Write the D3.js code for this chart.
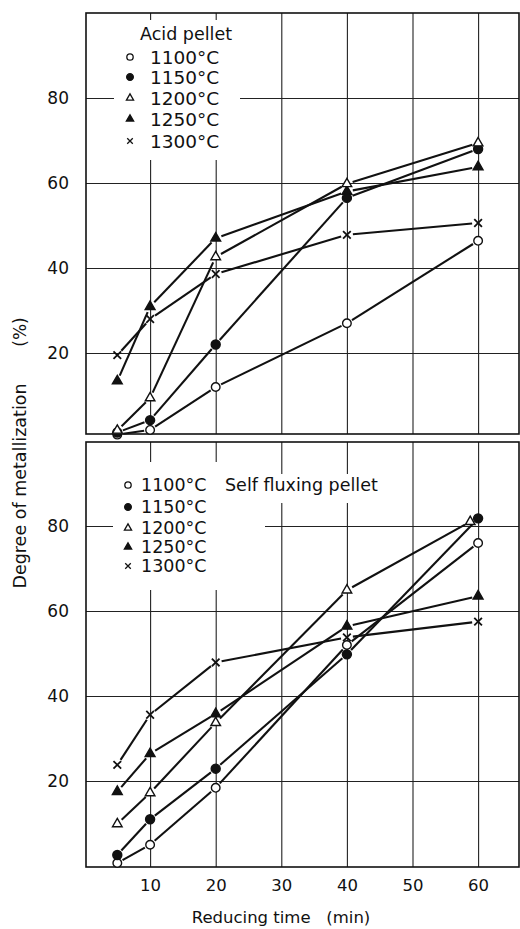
<!DOCTYPE html>
<html>
<head>
<meta charset="utf-8">
<script src="https://cdn.jsdelivr.net/npm/d3@7"></script>
<style>
body{margin:0;background:#fff;}
svg text{font-family:"DejaVu Sans",sans-serif;fill:#111;}
</style>
</head>
<body>
<svg id="chart" width="520" height="929"></svg>
<script>
// reducing time (min) for each measured point
const times = [5, 10, 20, 40, 60];
const labels = ["1100°C", "1150°C", "1200°C", "1250°C", "1300°C"];
const xTicks = [10, 20, 30, 40, 50, 60];
const yTicks = [20, 40, 60, 80];

// Acid pellet, degree of metallization (%)
const acid1100 = [0.8, 1.9, 12, 27, 46.4];
const acid1150 = [1.3, 4.2, 22, 56.5, 68];
const acid1200 = [1.8, 9.4, 42.6, 59.8, 69.4];
const acid1250 = [13.4, 30.9, 47, 58, 63.8];
const acid1300 = [19.5, 28, 38.6, 47.8, 50.6];

// Self fluxing pellet
const self1100 = [0.7, 5, 18.4, 52, 76];
const self1150 = [2.6, 11, 22.9, 49.8, 81.8];
const self1200 = [9.9, 17.2, 33.7, 64.9, 81];
const self1250 = [17.5, 26.4, 35.8, 56.4, 63.5];
const self1300 = [23.8, 35.6, 47.9, 53.8, 57.5];
const selfTimes1200 = [5, 10, 20, 40, 58.8];

const svg = d3.select("#chart");
const left = 86, right = 519;

const x = d3.scaleLinear().domain([0, 70]).range([84.5, 543.7]);

// marker look per temperature
const shapes = [d3.symbolCircle, d3.symbolCircle, d3.symbolTriangle, d3.symbolTriangle, d3.symbolTimes];
const filled = [false, true, false, true, false];
const sizes = [58, 64, 40, 42, 40];

function marker(i, scale){
    return d3.symbol().type(shapes[i]).size(sizes[i]*(scale||1))();
}

function drawPanel(cfg){
    const y = d3.scaleLinear().domain([0, 100]).range([cfg.y0, cfg.y100]);
    const g = svg.append("g");

    // grid via axes
    g.append("g")
        .attr("transform", `translate(${left},0)`)
        .call(d3.axisLeft(y).tickValues(yTicks).tickSize(-(right-left)).tickPadding(17))
        .call(a => a.select(".domain").remove())
        .call(a => a.selectAll("line").attr("stroke","#222").attr("stroke-width",1.1))
        .call(a => a.selectAll("text").attr("font-size",17).attr("font-family","DejaVu Sans").attr("fill","#111"));

    g.append("g")
        .attr("transform", `translate(0,${cfg.bottom})`)
        .call(d3.axisBottom(x).tickValues(xTicks).tickSize(-(cfg.bottom-cfg.top)).tickFormat(cfg.xLabels ? d3.format("d") : ""))
        .call(a => a.select(".domain").remove())
        .call(a => a.selectAll("line").attr("stroke","#222").attr("stroke-width",1.1))
        .call(a => a.selectAll("text").attr("font-size",16.5).attr("font-family","DejaVu Sans").attr("fill","#111").attr("dy","1.3em"));

    // legend background cuts the grid
    g.selectAll(".lgbg").data(cfg.blank).enter().append("rect")
        .attr("x", d => d[0]).attr("y", d => d[1])
        .attr("width", d => d[2]-d[0]).attr("height", d => d[3]-d[1])
        .attr("fill","#fff");

    // frame
    g.append("rect")
        .attr("x", left).attr("y", cfg.top)
        .attr("width", right-left).attr("height", cfg.bottom-cfg.top)
        .attr("fill","none").attr("stroke","#111").attr("stroke-width",1.6);

    // series lines, broken a little near each marker
    const gap = 6;
    cfg.series.forEach((vals, i) => {
        const ts = cfg.times[i];
        const pts = vals.map((v, k) => [x(ts[k]), y(v)]);
        for(let k = 0; k < pts.length-1; k++){
            const [x0, y0] = pts[k], [x1, y1] = pts[k+1];
            const len = Math.hypot(x1-x0, y1-y0);
            const ux = (x1-x0)/len, uy = (y1-y0)/len;
            g.append("line")
                .attr("x1", x0+ux*gap).attr("y1", y0+uy*gap)
                .attr("x2", x1-ux*gap).attr("y2", y1-uy*gap)
                .attr("stroke","#111").attr("stroke-width",2.1);
        }
    });

    // markers; filled triangles first so the open ones sit on top
    [3, 0, 1, 2, 4].forEach(i => {
        const vals = cfg.series[i], ts = cfg.times[i];
        g.selectAll(null).data(vals).enter().append("path")
            .attr("d", marker(i))
            .attr("transform", (d, k) => `translate(${x(ts[k])},${y(d)})`)
            .attr("fill", filled[i] ? "#111" : "#fff")
            .attr("stroke","#111")
            .attr("stroke-width", i==4 ? 1.8 : 1.4);
    });

    // legend
    const lg = g.append("g");
    if(cfg.title){
        lg.append("text").attr("x", cfg.title[1]).attr("y", cfg.title[2])
            .attr("font-size",17.5).text(cfg.title[0]);
    }
    labels.forEach((lab, i) => {
        const ly = cfg.legendY[i];
        lg.append("path").attr("d", marker(i, 0.55))
            .attr("transform", `translate(${cfg.legendX},${ly})`)
            .attr("fill", filled[i] ? "#111" : "#fff")
            .attr("stroke","#111").attr("stroke-width",1.3);
        lg.append("text").attr("x", cfg.legendX + cfg.textOff).attr("y", ly)
            .attr("dy","0.36em").attr("font-size",cfg.labelSize).text(lab);
    });
}

drawPanel({
    y0: 438, y100: 13, top: 13, bottom: 434,
    series: [acid1100, acid1150, acid1200, acid1250, acid1300],
    times: [times, times, times, times, times],
    blank: [[114, 20, 240, 160]],
    title: ["Acid pellet", 140, 40],
    legendX: 130, textOff: 20, labelSize: 18.5,
    legendY: [57, 77, 98, 119, 141],
    xLabels: false
});

drawPanel({
    y0: 866, y100: 441, top: 442, bottom: 867,
    series: [self1100, self1150, self1200, self1250, self1300],
    times: [times, times, selfTimes1200, times, times],
    blank: [[113, 462, 265, 590], [265, 474, 384, 503]],
    title: ["Self fluxing pellet", 225, 491],
    legendX: 128, textOff: 13, labelSize: 17.5,
    legendY: [485, 507, 528, 547, 566],
    xLabels: true
});

// axis titles
svg.append("text")
    .attr("transform","translate(26,486) rotate(-90)")
    .attr("text-anchor","middle").attr("font-size",17.5)
    .text("Degree of metallization");
svg.append("text")
    .attr("transform","translate(26,332) rotate(-90)")
    .attr("text-anchor","middle").attr("font-size",17)
    .text("(%)");
svg.append("text")
    .attr("x", 281).attr("y", 923)
    .attr("text-anchor","middle").attr("font-size",16.5)
    .attr("xml:space","preserve")
    .text("Reducing time   (min)");
</script>
</body>
</html>
